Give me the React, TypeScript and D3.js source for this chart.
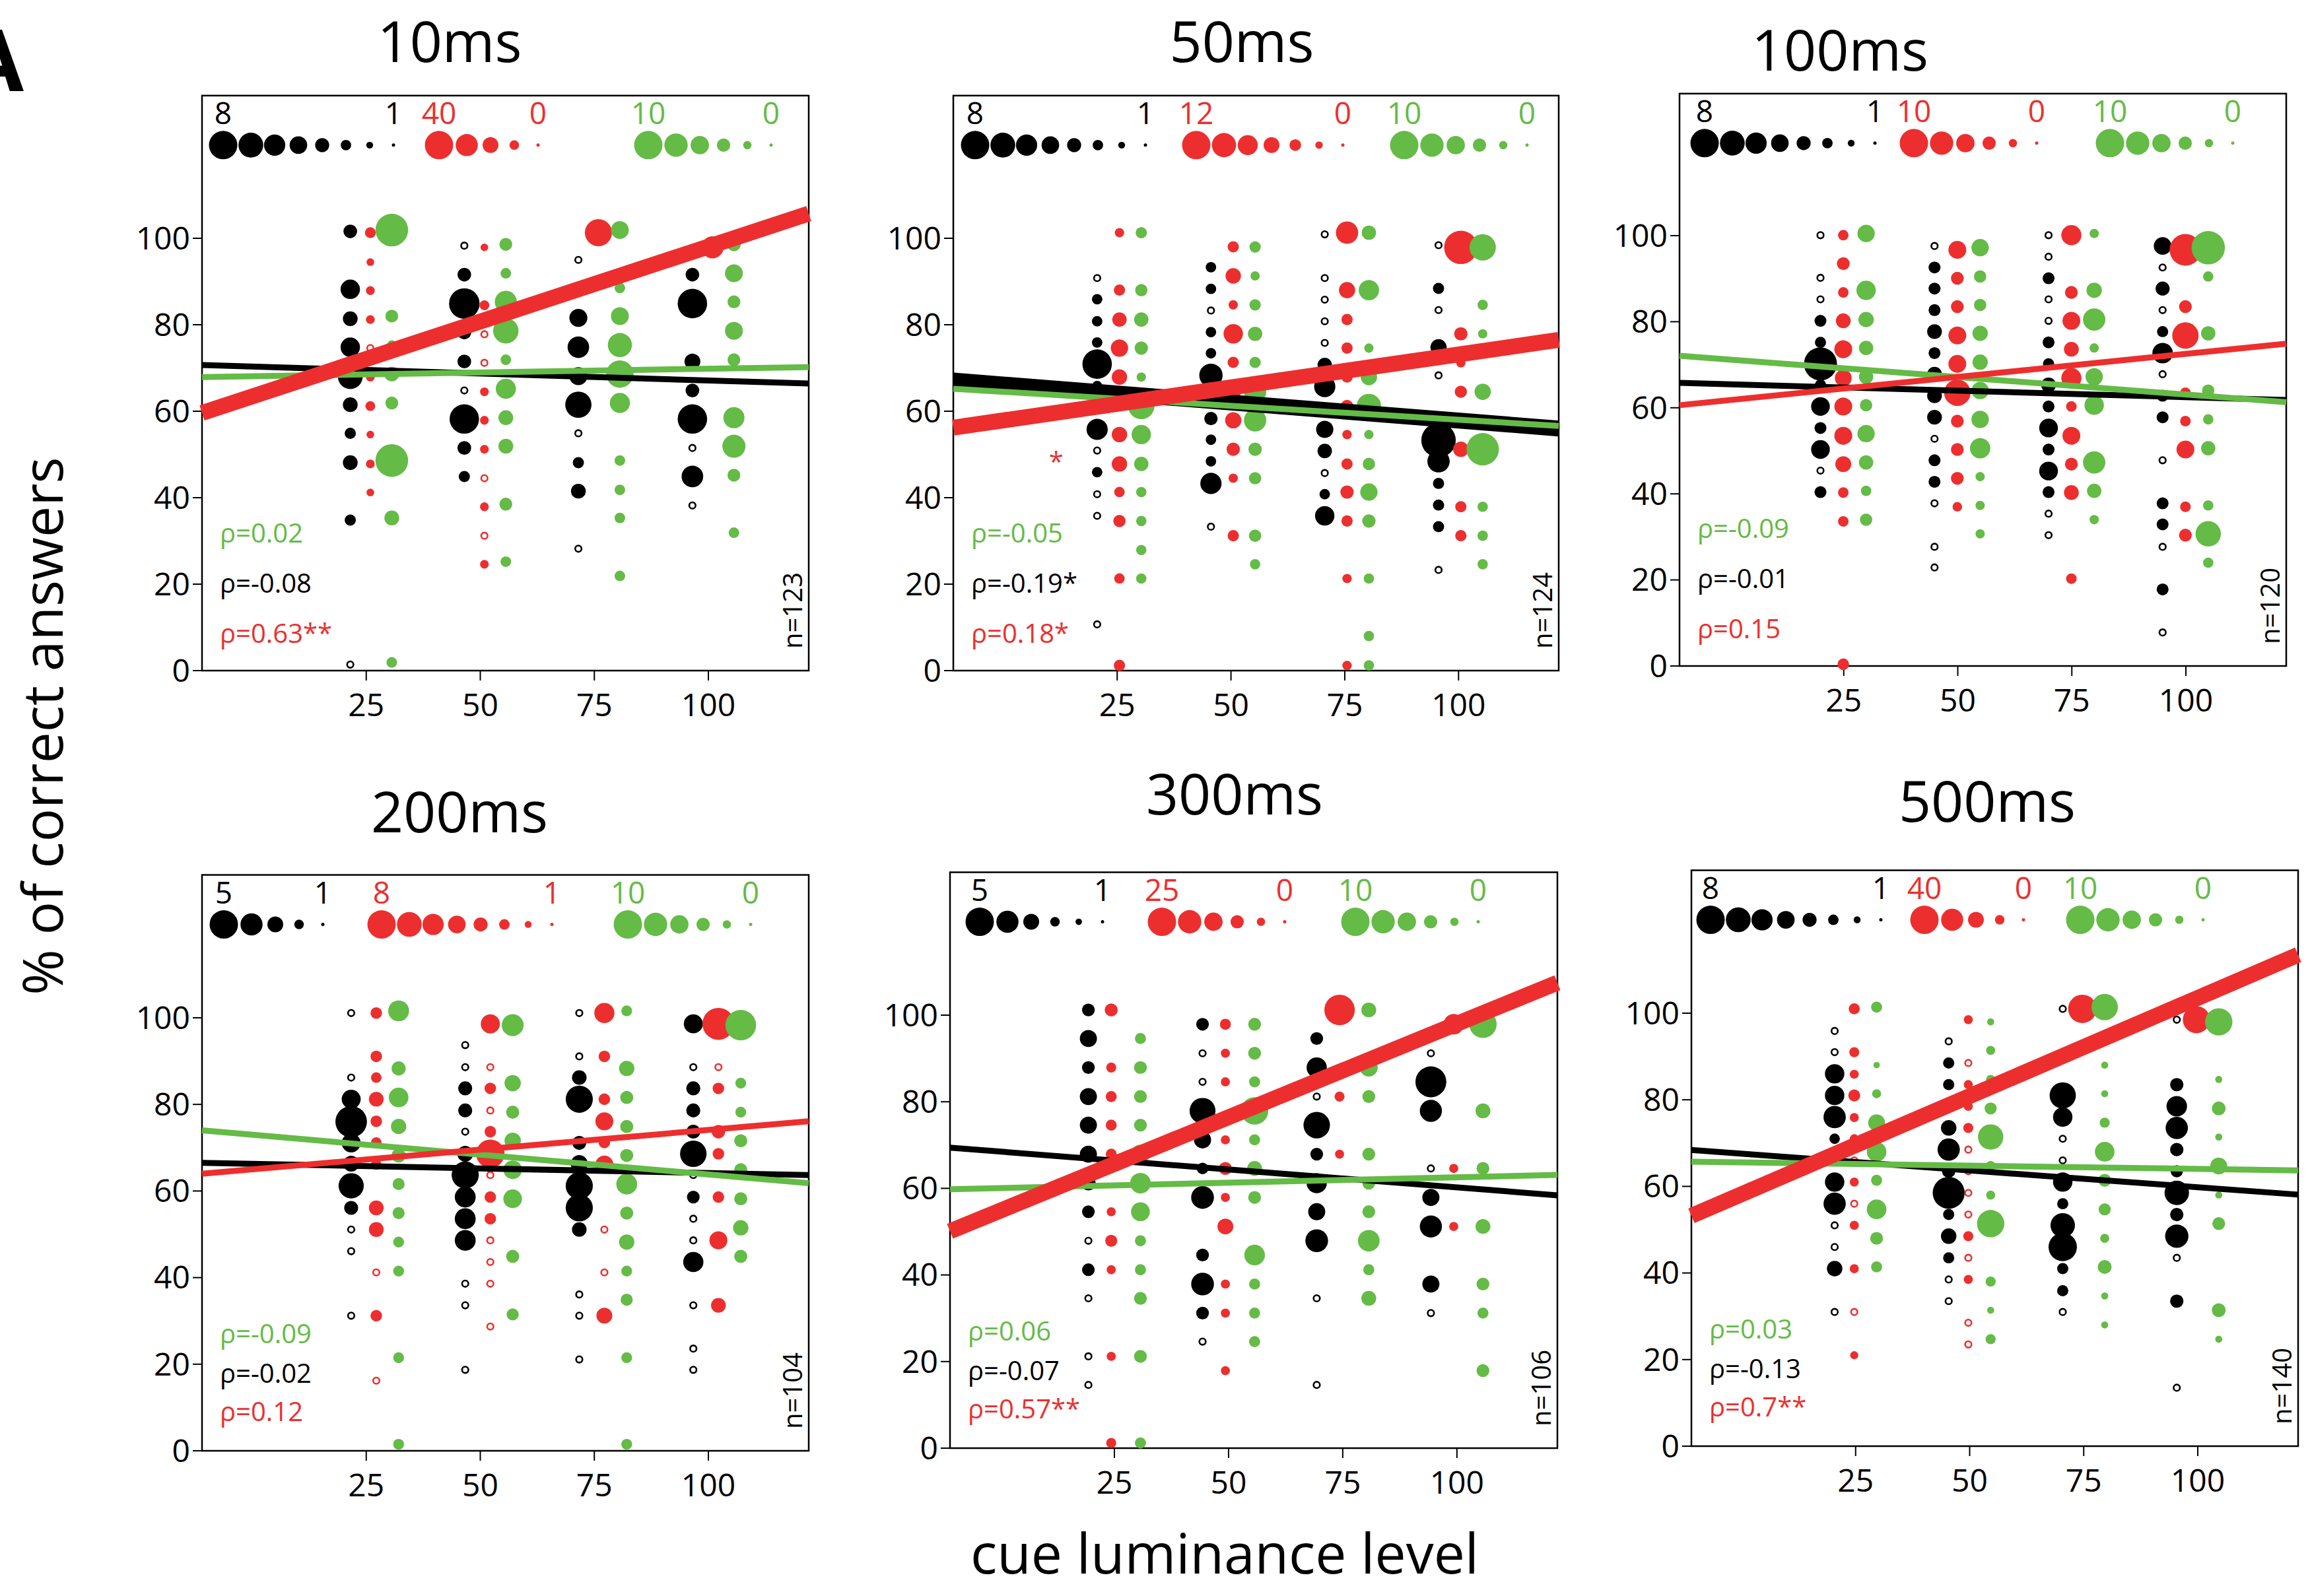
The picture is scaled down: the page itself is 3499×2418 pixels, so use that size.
import React from 'react';
import * as d3 from 'd3';

// ---- data ----
const durations = ['10ms', '50ms', '100ms', '200ms', '300ms', '500ms'];
const nLabels = ['n=123', 'n=124', 'n=120', 'n=104', 'n=106', 'n=140'];
const rhoGreen = ['ρ=0.02', 'ρ=-0.05', 'ρ=-0.09', 'ρ=-0.09', 'ρ=0.06', 'ρ=0.03'];
const rhoBlack = ['ρ=-0.08', 'ρ=-0.19*', 'ρ=-0.01', 'ρ=-0.02', 'ρ=-0.07', 'ρ=-0.13'];
const rhoRed = ['ρ=0.63**', 'ρ=0.18*', 'ρ=0.15', 'ρ=0.12', 'ρ=0.57**', 'ρ=0.7**'];
const xTicks = [25, 50, 75, 100];
const yTicks = [0, 20, 40, 60, 80, 100];

// size keys shown at the top of each panel (largest -> smallest)
const keyBlack = [[8, 7, 6, 5, 4, 3, 2, 1], [8, 7, 6, 5, 4, 3, 2, 1], [8, 7, 6, 5, 4, 3, 2, 1], [5, 4, 3, 2, 1], [5, 4, 3, 2, 1.5, 1], [8, 7, 6, 5, 4, 3, 2, 1]];
const keyRed = [[40, 30, 20, 10, 0], [12, 10, 8, 6, 4, 2, 0], [10, 8, 6, 4, 2, 0], [8, 7, 6, 5, 4, 3, 2, 1], [25, 20, 15, 10, 5, 0], [40, 30, 20, 10, 0]];
const keyGreen = [[10, 8, 6, 4, 2, 0], [10, 8, 6, 4, 2, 0], [10, 8, 6, 4, 2, 0], [10, 8, 6, 4, 2, 0], [10, 8, 6, 4, 2, 0], [10, 8, 6, 4, 2, 0]];

// regression lines: value at left and right end of the x domain
const fitBlack = [[70.7, 66.4], [67.1, 56], [65.8, 61.8], [66.5, 63.7], [69.4, 58.4], [68.4, 58.1]];
const fitRed = [[59.6, 105.7], [56.2, 76.5], [60.6, 74.9], [64, 76.1], [50.1, 107.5], [53.2, 113.5]];
const fitGreen = [[67.9, 70.2], [65.2, 56.6], [72.1, 61.3], [74, 61.8], [59.8, 63.1], [65.7, 63.7]];

// dots: [luminance level, % correct, size value]
const black10 = [[25,101.6,3.9],[25,88.2,5.5],[25,81.4,4.2],[25,74.8,5.5],[25,68,7],[25,61.5,4.2],[25,54.9,3.2],[25,48.1,4.2],[25,34.8,3.2],[25,1.4,1],
  [50,98.3,1],[50,91.6,3.9],[50,84.9,8.6],[50,78.2,3.9],[50,71.5,3.9],[50,64.8,1],[50,58.2,8.3],[50,51.5,3.9],[50,44.9,3.2],
  [75,95,1],[75,88.2,3.9],[75,81.6,5.1],[75,74.8,6.1],[75,68.1,5.1],[75,61.5,7.4],[75,54.9,1],[75,48.1,3.2],[75,41.5,4.2],[75,28.2,1],
  [100,91.6,3.9],[100,84.9,8.3],[100,71.5,4.5],[100,64.8,3.9],[100,58.2,8.3],[100,51.5,1],[100,44.9,6.1],[100,38.2,1]];
const red10 = [[25,101.3,12],[25,94.5,7],[25,87.9,8.7],[25,81.2,8.7],[25,74.6,0],[25,67.9,8.7],[25,61.2,10.4],[25,54.6,7],[25,47.8,8.7],[25,41.2,7],
  [50,97.9,7],[50,84.5,10.4],[50,77.8,0],[50,71.2,0],[50,64.5,8.7],[50,57.9,8.7],[50,51.2,8.7],[50,44.5,0],[50,37.9,8.7],[50,31.2,0],[50,24.6,8.7],
  [75,101.3,38],[100,97.9,30]];
const green10 = [[25,101.9,11.7],[25,82,3.8],[25,75.3,2.5],[25,68.6,4.6],[25,61.9,3.8],[25,48.6,11.7],[25,35.3,4.6],[25,1.9,2.9],
  [50,98.6,3.8],[50,91.9,2.9],[50,85.3,7.5],[50,78.6,8.8],[50,71.9,2.9],[50,65.2,6.7],[50,58.5,4.6],[50,51.9,4.6],[50,38.5,3.8],[50,25.2,2.9],
  [75,101.9,5.8],[75,88.5,2.9],[75,82,5.8],[75,75.3,8.3],[75,68.6,9.6],[75,61.9,6.7],[75,48.6,2.9],[75,41.8,2.9],[75,35.3,2.9],[75,21.9,2.9],
  [100,98.6,4.2],[100,91.9,5.8],[100,85.3,3.8],[100,78.6,5.8],[100,71.9,3.8],[100,58.5,7.1],[100,51.9,7.9],[100,45.2,3.8],[100,31.9,2.9]];

const black50 = [[25,90.8,1],[25,85.9,3],[25,80.8,3],[25,75.9,3],[25,70.9,8.3],[25,65.8,3],[25,55.8,6],[25,50.9,1],[25,45.9,3],[25,40.8,1],[25,35.8,1],[25,10.7,1],
  [50,93.3,3],[50,88.3,3],[50,83.3,1],[50,78.3,3],[50,73.4,3],[50,68.3,6.6],[50,63.3,3],[50,58.3,3.8],[50,53.4,3],[50,48.4,3],[50,43.3,6],[50,33.3,1],
  [75,100.9,1],[75,90.8,1],[75,85.8,1],[75,80.8,1],[75,75.8,1],[75,70.7,4.1],[75,65.7,6],[75,55.8,4.9],[75,50.8,4.1],[75,45.7,1],[75,40.8,3],[75,35.8,5.5],
  [100,98.4,1],[100,88.4,3.2],[100,83.4,1],[100,74.8,4.6],[100,68.3,1],[100,53.3,9.7],[100,48.4,6.3],[100,43.3,3.2],[100,38.3,3.2],[100,33.3,3.2],[100,23.3,1]];
const red50 = [[25,101.3,2.9],[25,88,3.8],[25,81.2,5.3],[25,74.6,6.7],[25,67.9,5.8],[25,54.6,5.8],[25,47.8,5.8],[25,41.3,3.4],[25,34.6,4.3],[25,21.3,3.4],[25,1.2,3.8],
  [50,98,3.8],[50,91.3,5.8],[50,84.6,2.9],[50,77.9,7.7],[50,71.3,3.8],[50,64.5,5.8],[50,57.9,6.2],[50,51.2,4.8],[50,44.5,2.9],[50,31.2,3.8],
  [75,101.3,9.1],[75,88,6.2],[75,81.2,3.8],[75,74.6,3.8],[75,67.9,3.8],[75,61.2,4.3],[75,54.6,2.9],[75,47.8,3.8],[75,41.3,4.8],[75,34.6,3.8],[75,21.3,2.9],[75,1.2,2.9],
  [100,97.9,14.4],[100,77.9,4.8],[100,71.2,2.9],[100,64.5,4.3],[100,57.9,2.9],[100,51.2,5.8],[100,37.9,3.8],[100,31.2,3.8]];
const green50 = [[25,101.3,3.2],[25,88,3.6],[25,81.2,4.4],[25,74.6,4],[25,67.9,2.4],[25,61.2,9.2],[25,54.6,6.4],[25,47.8,4.4],[25,41.3,2.8],[25,34.6,2.8],[25,27.9,2.8],[25,21.3,2.8],
  [50,98,3.2],[50,91.3,2.4],[50,84.6,3.2],[50,77.9,4.4],[50,71.3,3.2],[50,64.5,7.6],[50,57.9,7.6],[50,51.2,4],[50,44.5,3.6],[50,31.2,3.6],[50,24.6,2.8],
  [75,101.3,4.4],[75,88,6.8],[75,74.6,2.4],[75,67.9,5.2],[75,61.2,8.4],[75,54.6,2.4],[75,47.8,3.6],[75,41.3,5.6],[75,34.6,4],[75,21.3,2.8],[75,8,2.8],[75,1.2,2.8],
  [100,97.9,9.2],[100,84.6,2.8],[100,77.9,2.4],[100,64.5,5.2],[100,57.9,2.4],[100,51.2,11.6],[100,37.9,2.8],[100,31.2,2.8],[100,24.6,2.8]];

const black100 = [[25,100.1,1],[25,90.2,1],[25,85.2,1],[25,80.2,3.4],[25,75.2,3.2],[25,70.2,9.3],[25,65.3,3.2],[25,60.3,5.3],[25,55.3,3.4],[25,50.3,5.3],[25,45.4,1],[25,40.4,3.4],
  [50,97.6,1],[50,92.6,3.4],[50,87.7,3.4],[50,82.7,3.4],[50,77.7,4.2],[50,72.7,3.4],[50,67.8,4.2],[50,62.8,4.2],[50,57.8,4.2],[50,52.8,1],[50,47.8,3.4],[50,42.8,3.4],[50,37.8,1],[50,27.7,1],[50,22.9,1],
  [75,100.1,1],[75,95.1,1],[75,90.1,3.4],[75,85.2,1],[75,80.2,1],[75,75.2,3.4],[75,70.2,3.2],[75,65.3,4.2],[75,60.3,3.4],[75,55.3,5.3],[75,50.3,3.4],[75,45.3,5.3],[75,40.4,3.4],[75,35.4,1],[75,30.4,1],
  [100,97.6,5],[100,92.6,1],[100,87.7,4],[100,82.7,1],[100,77.7,3.2],[100,72.7,5.8],[100,67.8,1],[100,62.8,3.4],[100,57.8,3.4],[100,47.8,1],[100,37.8,3.4],[100,32.9,3.4],[100,27.7,1],[100,17.8,3.4],[100,7.8,1]];
const red100 = [[25,100.1,2.9],[25,93.5,3.8],[25,86.8,2.9],[25,80.2,4.6],[25,73.6,5.8],[25,66.9,5.4],[25,60.3,5.8],[25,53.5,5.8],[25,46.9,5],[25,40.3,2.9],[25,33.6,2.9],[25,0.4,3.3],
  [50,96.7,5.8],[50,90.1,3.8],[50,83.5,3.8],[50,76.8,5.8],[50,70.2,5.8],[50,63.5,9.2],[50,56.9,3.8],[50,50.3,3.8],[50,43.6,3.8],[50,37,2.5],
  [75,100.1,6.7],[75,86.8,3.8],[75,80.2,5.8],[75,73.6,4.6],[75,66.9,6.7],[75,60.3,2.9],[75,53.5,5.8],[75,46.9,3.8],[75,40.3,4.6],[75,20.3,2.9],
  [100,96.7,11.3],[100,83.5,3.8],[100,76.8,9.2],[100,63.5,2.9],[100,56.9,2.9],[100,50.3,5.8],[100,37,2.9],[100,30.4,3.8]];
const green100 = [[25,100.5,5.6],[25,87.3,6.4],[25,80.5,4.8],[25,73.9,4.4],[25,67.2,4.4],[25,60.6,3.6],[25,54,5.6],[25,47.3,4.4],[25,40.7,2.8],[25,34,3.6],
  [50,97.2,5.6],[50,90.5,3.6],[50,83.9,3.6],[50,77.3,4.8],[50,70.6,4.8],[50,64,5.6],[50,57.3,5.6],[50,50.6,6.8],[50,44,2.4],[50,37.3,2.4],[50,30.7,2.4],
  [75,100.5,2.4],[75,87.3,4.8],[75,80.5,7.6],[75,73.9,2.4],[75,67.2,5.6],[75,60.6,6.4],[75,47.3,7.6],[75,40.7,4.4],[75,34,2.4],
  [100,97.2,12],[100,90.5,2.8],[100,77.3,4.4],[100,64,3.6],[100,57.3,2.8],[100,50.6,4.4],[100,37.3,2.8],[100,30.7,8.8],[100,24,2.8]];

const black200 = [[25,101.1,1],[25,86.2,1],[25,81.2,3.5],[25,76,5.5],[25,71.1,3.5],[25,66.3,3],[25,61.2,4.5],[25,56.1,2.7],[25,51.1,1],[25,46.1,1],[25,31.2,1],
  [50,93.7,1],[50,88.6,1],[50,83.7,2.7],[50,78.6,2.7],[50,73.7,1],[50,68.6,3],[50,63.7,4.8],[50,58.6,3.8],[50,53.6,3.8],[50,48.6,3.8],[50,38.6,1],[50,33.6,1],[50,18.7,1],
  [75,101.1,1],[75,91.1,1],[75,86.2,2.8],[75,81.2,4.8],[75,71.1,2.7],[75,66.3,3.2],[75,61.2,4.8],[75,56.1,4.8],[75,51.1,2.8],[75,36.1,1],[75,31.2,1],[75,21.1,1],
  [100,98.6,3.5],[100,88.6,1],[100,83.7,2.7],[100,78.6,2.7],[100,73.7,2.7],[100,68.6,4.7],[100,63.7,1],[100,58.6,2.5],[100,53.6,1],[100,48.6,1],[100,43.6,3.7],[100,33.6,1],[100,23.6,1],[100,18.7,1]];
const red200 = [[25,101.1,3.3],[25,91.1,3.3],[25,86.2,3],[25,81.2,4.2],[25,76.1,3.3],[25,71.2,3],[25,66.1,3],[25,56.1,4.2],[25,51.1,4.2],[25,41.2,1],[25,31.2,3.3],[25,16.2,1],
  [50,98.6,5.4],[50,88.6,1],[50,83.7,3.3],[50,78.6,1],[50,73.7,3.3],[50,68.6,8],[50,63.7,1],[50,58.6,3.3],[50,53.6,3.3],[50,48.6,1],[50,43.6,1],[50,38.6,1],[50,28.7,1],
  [75,101.1,5.7],[75,91.1,3.3],[75,81.2,3.3],[75,76.1,5.1],[75,71.2,3.3],[75,66.1,5.1],[75,51.1,1],[75,41.2,1],[75,31.2,4.5],
  [100,98.6,9],[100,88.6,1],[100,83.7,3.3],[100,73.7,3.9],[100,68.6,3.3],[100,58.6,3.3],[100,48.6,5.1],[100,33.6,4.2]];
const green200 = [[25,101.6,7],[25,88.3,4.3],[25,81.6,6.5],[25,74.9,4.8],[25,68.2,4.3],[25,61.6,3.5],[25,54.9,3.5],[25,48.2,3],[25,41.5,3],[25,21.5,3],[25,1.5,3],
  [50,98.3,7.4],[50,84.9,5.2],[50,78.2,3.9],[50,71.6,5.2],[50,64.9,6.1],[50,58.2,6.1],[50,44.9,3.9],[50,31.5,3.5],
  [75,101.6,3],[75,88.3,4.8],[75,81.6,3.9],[75,74.9,3.9],[75,68.2,3.9],[75,61.6,7],[75,54.9,3.9],[75,48.2,4.8],[75,41.5,3],[75,34.9,3.5],[75,21.5,3],[75,1.5,3],
  [100,98.3,10.9],[100,84.9,3],[100,78.2,3],[100,71.6,3.9],[100,64.9,3.9],[100,58.2,3.9],[100,51.5,4.8],[100,44.9,3.9]];

const black300 = [[25,101.2,2.5],[25,94.6,3.2],[25,87.9,2.5],[25,81.2,3.2],[25,74.6,3.2],[25,67.9,3.2],[25,61.2,2.8],[25,54.6,2.5],[25,47.9,1],[25,41.2,2.5],[25,34.6,1],[25,21.2,1],[25,14.6,1],
  [50,97.9,2.5],[50,91.2,1],[50,84.6,1],[50,77.9,4.6],[50,71.2,3.2],[50,64.6,2.3],[50,57.9,4.1],[50,44.6,2.5],[50,37.9,4.1],[50,31.2,2.5],[50,24.6,1],
  [75,94.6,2.5],[75,87.9,3.7],[75,81.2,1],[75,74.6,4.7],[75,67.9,2.5],[75,61.2,3.7],[75,54.6,3.2],[75,47.9,4.1],[75,34.6,1],[75,14.6,1],
  [100,91.2,1],[100,84.6,5.4],[100,77.9,4],[100,64.6,1],[100,57.9,3.2],[100,51.2,4],[100,37.9,3.2],[100,31.2,1]];
const red300 = [[25,101.2,9.6],[25,87.9,6.7],[25,81.2,7.7],[25,74.6,7.7],[25,67.9,7.7],[25,54.6,5.8],[25,47.9,8.7],[25,41.2,5.8],[25,21.2,5.8],[25,1.2,6.7],
  [50,97.9,7.7],[50,91.2,5.8],[50,84.6,5.8],[50,71.2,5.8],[50,64.6,9.6],[50,57.9,5.8],[50,51.2,12.5],[50,37.9,5.8],[50,31.2,5.8],[50,17.9,5.8],
  [75,101.2,27],[75,81.2,6.7],[75,67.9,5.8],
  [100,97.9,17],[100,64.6,5.8],[100,51.2,5.8]];
const green300 = [[25,94.6,3.1],[25,87.9,3.8],[25,81.2,3.8],[25,74.6,3.8],[25,67.9,6.2],[25,61.2,6.9],[25,54.6,6.2],[25,47.9,3.1],[25,41.2,3.1],[25,34.6,3.8],[25,21.2,3.8],[25,1.2,3.1],
  [50,97.9,3.8],[50,91.2,3.8],[50,84.6,3.1],[50,77.9,9.6],[50,71.2,3.1],[50,64.6,4.6],[50,57.9,3.8],[50,44.6,6.9],[50,37.9,3.1],[50,31.2,3.1],[50,24.6,3.1],
  [75,101.2,4.6],[75,87.9,5.8],[75,81.2,3.8],[75,67.9,3.8],[75,61.2,3.8],[75,54.6,3.8],[75,47.9,7.3],[75,41.2,3.1],[75,34.6,4.6],
  [100,97.9,9.6],[100,77.9,4.6],[100,64.6,3.8],[100,51.2,4.6],[100,37.9,3.8],[100,31.2,3.1],[100,17.9,3.8]];

const black500 = [[25,95.9,1],[25,91,1],[25,86,5.5],[25,81,5.5],[25,76,6.3],[25,71,3],[25,66,3],[25,61,5.5],[25,56,6.3],[25,51,1],[25,46,1],[25,41,4.4],[25,31,1],
  [50,93.5,1],[50,88.5,3.2],[50,83.5,3.2],[50,73.5,4.4],[50,68.5,6.3],[50,63.5,3.8],[50,58.5,9],[50,53.5,3.2],[50,48.5,4.4],[50,43.5,3.2],[50,38.5,1],[50,33.5,1],
  [75,101,1],[75,81,7.4],[75,76,5.5],[75,71,1],[75,66,1],[75,61,5.5],[75,56,3.2],[75,51,6.9],[75,46,8],[75,41,3.2],[75,35.9,3.2],[75,31,1],
  [100,98.5,1],[100,83.5,3.8],[100,78.5,5.8],[100,73.5,6.3],[100,68.5,3.8],[100,63.5,3.5],[100,58.5,6.9],[100,53.5,3.8],[100,48.5,6.6],[100,43.5,1],[100,33.5,3.8],[100,13.5,1]];
const red500 = [[25,101,12.3],[25,91,10.8],[25,85.9,9.2],[25,81,13.8],[25,75.9,9.2],[25,71,9.2],[25,66,0],[25,61,9.2],[25,56,0],[25,51,9.2],[25,41,9.2],[25,31,0],[25,21,7.7],
  [50,98.5,9.2],[50,88.5,0],[50,83.5,9.2],[50,78.5,9.2],[50,73.5,10.8],[50,68.5,0],[50,63.5,0],[50,58.5,0],[50,53.5,0],[50,48.5,10.8],[50,43.5,0],[50,38.5,9.2],[50,28.5,0],[50,23.5,0],
  [75,101,40],[100,98.5,38]];
const green500 = [[25,101.4,3.1],[25,88,1.2],[25,81.4,2.3],[25,74.7,5.4],[25,68,6.5],[25,61.4,3.1],[25,54.7,6.5],[25,48,3.8],[25,41.4,3.1],
  [50,98,1.5],[50,91.4,2.3],[50,84.7,2.3],[50,78,3.5],[50,71.4,8.8],[50,64.7,2.7],[50,58,2.3],[50,51.4,9.6],[50,38,2.7],[50,31.4,1.5],[50,24.7,2.7],
  [75,101.4,9.2],[75,88,1.5],[75,81.4,1.5],[75,74.7,2.7],[75,68,6.5],[75,61.4,3.8],[75,54.7,3.5],[75,48,2.3],[75,41.4,4.2],[75,34.7,1.5],[75,28,1.5],
  [100,98,9.6],[100,84.7,1.5],[100,78,4.2],[100,71.4,1.5],[100,64.7,5.4],[100,58,1.5],[100,51.4,3.8],[100,31.4,4.2],[100,24.7,1.5]];

const blackDots = [black10, black50, black100, black200, black300, black500];
const redDots = [red10, red50, red100, red200, red300, red500];
const greenDots = [green10, green50, green100, green200, green300, green500];

// red asterisk next to the 50ms panel
const notes = [{ panel: 1, x: 11.6, y: 49.7, text: '*' }];

// ---- layout ----
const W = 3499;
const H = 2418;
const FONT = '"Open Sans", "Noto Sans", sans-serif';
const COLOR = { black: '#000000', red: '#ec2f2e', green: '#64bb46' };
const X_DOMAIN = [-11, 122];
const Y_TOP = 133;

// box left/right, pixel of 0% and of 100%
const boxes = [
  { left: 306, right: 1225, y0: 1016, y100: 361, title: [681, 94] },
  { left: 1444, right: 2361, y0: 1016, y100: 361, title: [1881, 94] },
  { left: 2544, right: 3463, y0: 1009, y100: 357, title: [2787, 107] },
  { left: 306, right: 1225, y0: 2198, y100: 1542, title: [696, 1261] },
  { left: 1439, right: 2359, y0: 2194, y100: 1538, title: [1870, 1234] },
  { left: 2562, right: 3481, y0: 2191, y100: 1535, title: [3010, 1245] },
];
// column offsets of black / red / green dots around each level
const colOffset = [[-3.5, 0.9, 5.6], [-4.4, 0.5, 5.3], [-5.1, -0.1, 4.9], [-3.3, 2.2, 7.1], [-5.7, -0.7, 5.7], [-4.6, -0.3, 4.6]];
// start of each size key, from the box left
const keyStart = [[32, 359, 676], [33, 368, 683], [38, 355, 652], [33, 272, 645], [45, 321, 614], [29, 353, 589]];
const KEY_STEP = 36;
const rhoOffset = [[-194, -118, -42], [-194, -118, -42], [-194, -118, -42], [-163, -103, -45], [-163, -103, -45], [-163, -103, -45]];

function Panel({ i }: { i: number }) {
  const b = boxes[i];
  const x = d3.scaleLinear().domain(X_DOMAIN).range([b.left, b.right]);
  const y = d3.scaleLinear().domain([0, 100]).range([b.y0, b.y100]);
  const top = y(Y_TOP);

  const series = [
    { color: COLOR.black, dots: blackDots[i], key: keyBlack[i], fit: fitBlack[i], rho: rhoBlack[i], off: colOffset[i][0], start: keyStart[i][0] },
    { color: COLOR.red, dots: redDots[i], key: keyRed[i], fit: fitRed[i], rho: rhoRed[i], off: colOffset[i][1], start: keyStart[i][1] },
    { color: COLOR.green, dots: greenDots[i], key: keyGreen[i], fit: fitGreen[i], rho: rhoGreen[i], off: colOffset[i][2], start: keyStart[i][2] },
  ].map(s => ({
    ...s,
    r: d3.scaleLinear().domain([d3.min(s.key) as number, d3.max(s.key) as number]).range([2.5, 21.5]),
    min: d3.min(s.key) as number,
  }));

  const rhoOrder = [series[2], series[0], series[1]]; // green, black, red from top

  return (
    <g>
      <text x={b.title[0]} y={b.title[1]} textAnchor="middle" fontSize={86} fontFamily={FONT}>{durations[i]}</text>
      <rect x={b.left} y={top} width={b.right - b.left} height={b.y0 - top} fill="none" stroke="#000" strokeWidth={2.5} />

      {/* y axis */}
      {yTicks.map(t => (
        <g key={'y' + t}>
          <line x1={b.left - 14} x2={b.left} y1={y(t)} y2={y(t)} stroke="#000" strokeWidth={2} />
          <text x={b.left - 18} y={y(t)} dy="0.35em" textAnchor="end" fontSize={48} fontFamily={FONT}>{t}</text>
        </g>
      ))}
      {/* x axis */}
      {xTicks.map(t => (
        <g key={'x' + t}>
          <line x1={x(t)} x2={x(t)} y1={b.y0} y2={b.y0 + 15} stroke="#000" strokeWidth={2} />
          <text x={x(t)} y={b.y0 + 69} textAnchor="middle" fontSize={48} fontFamily={FONT}>{t}</text>
        </g>
      ))}

      {/* size keys */}
      {series.map((s, k) => {
        const kx = (j: number) => b.left + s.start + j * KEY_STEP + (j > 0 ? 6 : 0);
        const last = s.key.length - 1;
        return (
          <g key={'key' + k}>
            <text x={kx(0)} y={top + 43} textAnchor="middle" fontSize={46} fill={s.color} fontFamily={FONT}>{s.key[0]}</text>
            <text x={kx(last)} y={top + 43} textAnchor="middle" fontSize={46} fill={s.color} fontFamily={FONT}>{s.key[last]}</text>
            {s.key.map((v, j) => (
              <circle key={j} cx={kx(j)} cy={top + 75} r={s.r(v)} fill={s.color} />
            ))}
          </g>
        );
      })}

      {/* dots */}
      {series.map((s, k) => (
        <g key={'dots' + k}>
          {s.dots.map((d, j) =>
            d[2] === s.min ? (
              <circle key={j} cx={x(d[0] + s.off)} cy={y(d[1])} r={4.8} fill="#fff" stroke={s.color} strokeWidth={2.6} />
            ) : (
              <circle key={j} cx={x(d[0] + s.off)} cy={y(d[1])} r={s.r(d[2])} fill={s.color} />
            )
          )}
        </g>
      ))}

      {/* regression lines, thick when significant */}
      {[series[0], series[2], series[1]].map((s, k) => (
        <line key={'fit' + k} x1={x(X_DOMAIN[0])} x2={x(X_DOMAIN[1])} y1={y(s.fit[0])} y2={y(s.fit[1])}
          stroke={s.color} strokeWidth={s.rho.includes('*') ? 24 : 9} />
      ))}

      {/* correlation labels */}
      {rhoOrder.map((s, k) => (
        <text key={'rho' + k} x={b.left + 27} y={b.y0 + rhoOffset[i][k]} fontSize={40} fill={s.color} fontFamily={FONT}>{s.rho}</text>
      ))}
      <text transform={`translate(${b.right - 10},${b.y0 - 33}) rotate(-90)`} fontSize={40} fontFamily={FONT}>{nLabels[i]}</text>

      {notes.filter(n => n.panel === i).map((n, k) => (
        <text key={'note' + k} x={x(n.x)} y={y(n.y)} dy="0.6em" textAnchor="middle" fontSize={40} fill={COLOR.red} fontFamily={FONT}>{n.text}</text>
      ))}
    </g>
  );
}

export default function App() {
  return (
    <svg width={W} height={H} style={{ position: 'absolute', left: 0, top: 0 }}>
      <rect width={W} height={H} fill="#fff" />
      <text x={36} y={138} textAnchor="end" fontSize={130} fontWeight="bold" fontFamily={FONT}>A</text>
      <text transform={`translate(95,1100) rotate(-90)`} textAnchor="middle" fontSize={84} fontFamily={FONT}>% of correct answers</text>
      <text x={1855} y={2384} textAnchor="middle" fontSize={84} fontFamily={FONT}>cue luminance level</text>
      {durations.map((_, i) => <Panel key={i} i={i} />)}
    </svg>
  );
}
